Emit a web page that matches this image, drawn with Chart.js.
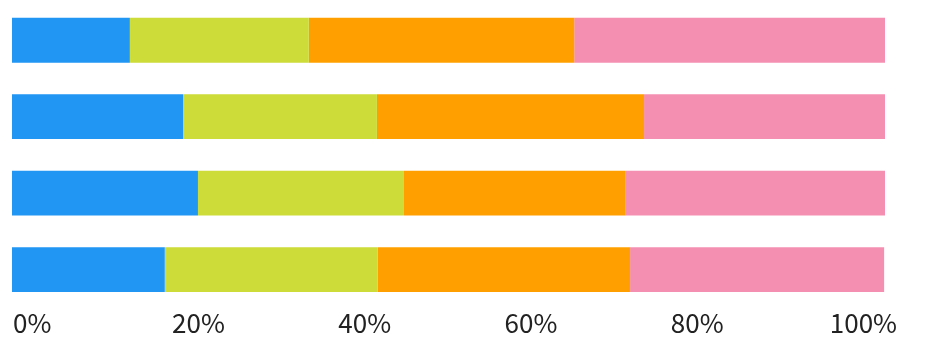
<!DOCTYPE html>
<html>
<head>
<meta charset="utf-8">
<script src="https://cdn.jsdelivr.net/npm/chart.js@4"></script>
<style>
  html, body { margin: 0; padding: 0; background: #fff; }
  #wrap { width: 926px; height: 360px; }
</style>
</head>
<body>
<div id="wrap"><canvas id="chart"></canvas></div>
<script>
// data (percent of each bar)
const categories = ['A', 'B', 'C', 'D'];
const blueValues = [13.5, 19.6, 21.3, 17.5];
const greenValues = [20.5, 22.2, 23.6, 24.4];
const orangeValues = [30.4, 30.6, 25.4, 28.9];
const pinkValues = [35.6, 27.6, 29.7, 29.1];
const tickValues = [0, 20, 40, 60, 80, 100];

const colors = ['#2196F3', '#CDDC39', '#FFA000', '#F48FB1'];

const ctx = document.getElementById('chart').getContext('2d');
new Chart(ctx, {
    type: 'bar',
    data: {
        labels: categories,
        datasets: [blueValues, greenValues, orangeValues, pinkValues].map((vals, i) => ({
            data: vals,
            backgroundColor: colors[i],
            borderWidth: 0,
            barPercentage: 0.587,
            categoryPercentage: 1
        }))
    },
    options: {
        indexAxis: 'y',
        responsive: true,
        maintainAspectRatio: false,
        animation: false,
        layout: { padding: { left: 12, right: 41, top: 2, bottom: 21 } },
        plugins: { legend: { display: false }, tooltip: { enabled: false } },
        scales: {
            x: {
                stacked: true,
                min: 0,
                max: 100,
                display: false
            },
            // label axis (the reference's labels sit on a slightly different spacing)
            x2: {
                type: 'linear',
                position: 'bottom',
                min: -2.44,
                max: 102.6,
                grid: { display: false, drawTicks: false },
                border: { display: false },
                afterBuildTicks: s => { s.ticks = tickValues.map(v => ({ value: v })); },
                ticks: {
                    padding: 0,
                    maxRotation: 0,
                    autoSkip: false,
                    color: '#222',
                    font: { family: '"Noto Sans CJK SC", "Noto Sans"', size: 26 },
                    callback: v => v + '%'
                }
            },
            y: {
                stacked: true,
                display: false
            }
        }
    }
});
</script>
</body>
</html>
